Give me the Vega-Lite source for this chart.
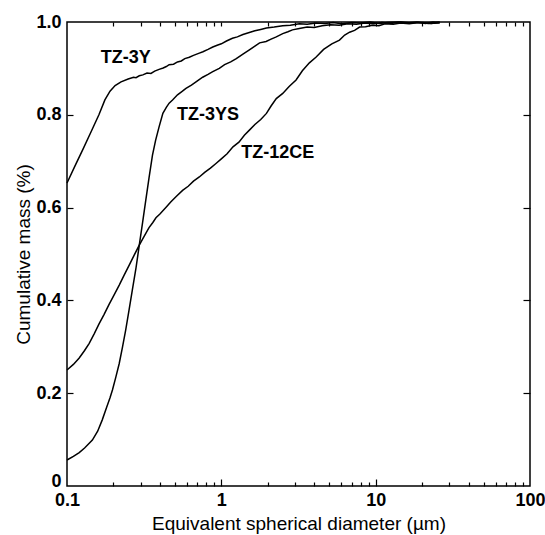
{
  "$schema": "https://vega.github.io/schema/vega-lite/v6.json",
  "width": 463,
  "height": 464,
  "autosize": {"type": "none"},
  "padding": {"left": 67, "top": 22, "right": 15, "bottom": 49},
  "config": {
    "view": {"stroke": "black", "strokeWidth": 1.5},
    "font": "Liberation Sans",
    "axis": {
      "domain": false,
      "grid": false,
      "labelFont": "Liberation Sans",
      "titleFont": "Liberation Sans",
      "labelColor": "black",
      "titleColor": "black",
      "tickColor": "black",
      "labelFontSize": 18,
      "labelFontWeight": "bold",
      "titleFontSize": 19,
      "titleFontWeight": "normal",
      "tickWidth": 1.2
    }
  },
  "data": {
    "values": [
      {"series": "TZ-3Y", "d": 0.1, "m": 0.653},
      {"series": "TZ-3Y", "d": 0.1127, "m": 0.69},
      {"series": "TZ-3Y", "d": 0.127, "m": 0.726},
      {"series": "TZ-3Y", "d": 0.143, "m": 0.763},
      {"series": "TZ-3Y", "d": 0.161, "m": 0.8},
      {"series": "TZ-3Y", "d": 0.176, "m": 0.832},
      {"series": "TZ-3Y", "d": 0.19, "m": 0.851},
      {"series": "TZ-3Y", "d": 0.205, "m": 0.863},
      {"series": "TZ-3Y", "d": 0.224, "m": 0.871},
      {"series": "TZ-3Y", "d": 0.249, "m": 0.877},
      {"series": "TZ-3Y", "d": 0.27, "m": 0.881},
      {"series": "TZ-3Y", "d": 0.28, "m": 0.88},
      {"series": "TZ-3Y", "d": 0.294, "m": 0.884},
      {"series": "TZ-3Y", "d": 0.31, "m": 0.886},
      {"series": "TZ-3Y", "d": 0.33, "m": 0.89},
      {"series": "TZ-3Y", "d": 0.35, "m": 0.889},
      {"series": "TZ-3Y", "d": 0.37, "m": 0.894},
      {"series": "TZ-3Y", "d": 0.395, "m": 0.898},
      {"series": "TZ-3Y", "d": 0.42, "m": 0.901},
      {"series": "TZ-3Y", "d": 0.44, "m": 0.904},
      {"series": "TZ-3Y", "d": 0.459, "m": 0.908},
      {"series": "TZ-3Y", "d": 0.49, "m": 0.909},
      {"series": "TZ-3Y", "d": 0.52, "m": 0.914},
      {"series": "TZ-3Y", "d": 0.55, "m": 0.916},
      {"series": "TZ-3Y", "d": 0.58, "m": 0.921},
      {"series": "TZ-3Y", "d": 0.62, "m": 0.924},
      {"series": "TZ-3Y", "d": 0.66, "m": 0.928},
      {"series": "TZ-3Y", "d": 0.72, "m": 0.933},
      {"series": "TZ-3Y", "d": 0.76, "m": 0.936},
      {"series": "TZ-3Y", "d": 0.82, "m": 0.941},
      {"series": "TZ-3Y", "d": 0.88, "m": 0.946},
      {"series": "TZ-3Y", "d": 0.94, "m": 0.95},
      {"series": "TZ-3Y", "d": 1.0, "m": 0.953},
      {"series": "TZ-3Y", "d": 1.08, "m": 0.959},
      {"series": "TZ-3Y", "d": 1.18, "m": 0.965},
      {"series": "TZ-3Y", "d": 1.27, "m": 0.968},
      {"series": "TZ-3Y", "d": 1.38, "m": 0.973},
      {"series": "TZ-3Y", "d": 1.5, "m": 0.977},
      {"series": "TZ-3Y", "d": 1.65, "m": 0.981},
      {"series": "TZ-3Y", "d": 1.8, "m": 0.984},
      {"series": "TZ-3Y", "d": 1.96, "m": 0.987},
      {"series": "TZ-3Y", "d": 2.2, "m": 0.989},
      {"series": "TZ-3Y", "d": 2.5, "m": 0.992},
      {"series": "TZ-3Y", "d": 2.8, "m": 0.993},
      {"series": "TZ-3Y", "d": 3.2, "m": 0.996},
      {"series": "TZ-3Y", "d": 3.6, "m": 0.995},
      {"series": "TZ-3Y", "d": 4.1, "m": 0.998},
      {"series": "TZ-3Y", "d": 4.7, "m": 0.997},
      {"series": "TZ-3Y", "d": 5.3, "m": 0.999},
      {"series": "TZ-3Y", "d": 6, "m": 0.996},
      {"series": "TZ-3Y", "d": 7, "m": 0.999},
      {"series": "TZ-3Y", "d": 8, "m": 0.998},
      {"series": "TZ-3Y", "d": 9.2, "m": 1.0},
      {"series": "TZ-3Y", "d": 10.5, "m": 0.997},
      {"series": "TZ-3Y", "d": 12, "m": 0.999},
      {"series": "TZ-3Y", "d": 14, "m": 1.0},
      {"series": "TZ-3Y", "d": 16, "m": 0.998},
      {"series": "TZ-3Y", "d": 18.5, "m": 1.0},
      {"series": "TZ-3Y", "d": 21, "m": 0.997},
      {"series": "TZ-3Y", "d": 23.5, "m": 1.0},
      {"series": "TZ-3Y", "d": 26, "m": 0.999},

      {"series": "TZ-3YS", "d": 0.1, "m": 0.056},
      {"series": "TZ-3YS", "d": 0.11, "m": 0.064},
      {"series": "TZ-3YS", "d": 0.12, "m": 0.072},
      {"series": "TZ-3YS", "d": 0.13, "m": 0.082},
      {"series": "TZ-3YS", "d": 0.146, "m": 0.099},
      {"series": "TZ-3YS", "d": 0.158, "m": 0.118},
      {"series": "TZ-3YS", "d": 0.169, "m": 0.142},
      {"series": "TZ-3YS", "d": 0.18, "m": 0.168},
      {"series": "TZ-3YS", "d": 0.19, "m": 0.19},
      {"series": "TZ-3YS", "d": 0.197, "m": 0.207},
      {"series": "TZ-3YS", "d": 0.207, "m": 0.234},
      {"series": "TZ-3YS", "d": 0.218, "m": 0.264},
      {"series": "TZ-3YS", "d": 0.229, "m": 0.3},
      {"series": "TZ-3YS", "d": 0.24, "m": 0.336},
      {"series": "TZ-3YS", "d": 0.252, "m": 0.378},
      {"series": "TZ-3YS", "d": 0.265, "m": 0.422},
      {"series": "TZ-3YS", "d": 0.28, "m": 0.47},
      {"series": "TZ-3YS", "d": 0.294, "m": 0.519},
      {"series": "TZ-3YS", "d": 0.309, "m": 0.568},
      {"series": "TZ-3YS", "d": 0.324, "m": 0.616},
      {"series": "TZ-3YS", "d": 0.34, "m": 0.664},
      {"series": "TZ-3YS", "d": 0.358, "m": 0.713},
      {"series": "TZ-3YS", "d": 0.375, "m": 0.745},
      {"series": "TZ-3YS", "d": 0.395, "m": 0.774},
      {"series": "TZ-3YS", "d": 0.418, "m": 0.803},
      {"series": "TZ-3YS", "d": 0.44, "m": 0.816},
      {"series": "TZ-3YS", "d": 0.459, "m": 0.825},
      {"series": "TZ-3YS", "d": 0.483, "m": 0.832},
      {"series": "TZ-3YS", "d": 0.52, "m": 0.843},
      {"series": "TZ-3YS", "d": 0.56, "m": 0.851},
      {"series": "TZ-3YS", "d": 0.59, "m": 0.857},
      {"series": "TZ-3YS", "d": 0.64, "m": 0.864},
      {"series": "TZ-3YS", "d": 0.7, "m": 0.873},
      {"series": "TZ-3YS", "d": 0.757, "m": 0.881},
      {"series": "TZ-3YS", "d": 0.82, "m": 0.887},
      {"series": "TZ-3YS", "d": 0.88, "m": 0.893},
      {"series": "TZ-3YS", "d": 0.97, "m": 0.9},
      {"series": "TZ-3YS", "d": 1.05, "m": 0.908},
      {"series": "TZ-3YS", "d": 1.15, "m": 0.914},
      {"series": "TZ-3YS", "d": 1.25, "m": 0.921},
      {"series": "TZ-3YS", "d": 1.38, "m": 0.931},
      {"series": "TZ-3YS", "d": 1.52, "m": 0.94},
      {"series": "TZ-3YS", "d": 1.65, "m": 0.948},
      {"series": "TZ-3YS", "d": 1.77, "m": 0.955},
      {"series": "TZ-3YS", "d": 1.95, "m": 0.958},
      {"series": "TZ-3YS", "d": 2.1, "m": 0.963},
      {"series": "TZ-3YS", "d": 2.27, "m": 0.968},
      {"series": "TZ-3YS", "d": 2.5, "m": 0.975},
      {"series": "TZ-3YS", "d": 2.7, "m": 0.979},
      {"series": "TZ-3YS", "d": 2.89, "m": 0.983},
      {"series": "TZ-3YS", "d": 3.2, "m": 0.986},
      {"series": "TZ-3YS", "d": 3.6, "m": 0.989},
      {"series": "TZ-3YS", "d": 4.0, "m": 0.988},
      {"series": "TZ-3YS", "d": 4.5, "m": 0.992},
      {"series": "TZ-3YS", "d": 5.1, "m": 0.994},
      {"series": "TZ-3YS", "d": 5.8, "m": 0.993},
      {"series": "TZ-3YS", "d": 6.6, "m": 0.996},
      {"series": "TZ-3YS", "d": 7.5, "m": 0.995},
      {"series": "TZ-3YS", "d": 8.5, "m": 0.998},
      {"series": "TZ-3YS", "d": 9.7, "m": 0.996},
      {"series": "TZ-3YS", "d": 11, "m": 0.999},
      {"series": "TZ-3YS", "d": 12.5, "m": 0.997},
      {"series": "TZ-3YS", "d": 14.5, "m": 1.0},
      {"series": "TZ-3YS", "d": 17, "m": 0.998},
      {"series": "TZ-3YS", "d": 20, "m": 0.999},
      {"series": "TZ-3YS", "d": 23, "m": 0.997},
      {"series": "TZ-3YS", "d": 26, "m": 1.0},

      {"series": "TZ-12CE", "d": 0.1, "m": 0.25},
      {"series": "TZ-12CE", "d": 0.11, "m": 0.262},
      {"series": "TZ-12CE", "d": 0.12, "m": 0.276},
      {"series": "TZ-12CE", "d": 0.13, "m": 0.292},
      {"series": "TZ-12CE", "d": 0.139, "m": 0.307},
      {"series": "TZ-12CE", "d": 0.15, "m": 0.328},
      {"series": "TZ-12CE", "d": 0.161, "m": 0.349},
      {"series": "TZ-12CE", "d": 0.174, "m": 0.37},
      {"series": "TZ-12CE", "d": 0.187, "m": 0.391},
      {"series": "TZ-12CE", "d": 0.202, "m": 0.412},
      {"series": "TZ-12CE", "d": 0.218, "m": 0.433},
      {"series": "TZ-12CE", "d": 0.235, "m": 0.455},
      {"series": "TZ-12CE", "d": 0.253, "m": 0.476},
      {"series": "TZ-12CE", "d": 0.272, "m": 0.497},
      {"series": "TZ-12CE", "d": 0.294, "m": 0.519},
      {"series": "TZ-12CE", "d": 0.316, "m": 0.538},
      {"series": "TZ-12CE", "d": 0.34, "m": 0.557},
      {"series": "TZ-12CE", "d": 0.36, "m": 0.568},
      {"series": "TZ-12CE", "d": 0.377, "m": 0.578},
      {"series": "TZ-12CE", "d": 0.4, "m": 0.586},
      {"series": "TZ-12CE", "d": 0.437, "m": 0.6},
      {"series": "TZ-12CE", "d": 0.47, "m": 0.612},
      {"series": "TZ-12CE", "d": 0.51, "m": 0.624},
      {"series": "TZ-12CE", "d": 0.561, "m": 0.637},
      {"series": "TZ-12CE", "d": 0.61, "m": 0.646},
      {"series": "TZ-12CE", "d": 0.66, "m": 0.657},
      {"series": "TZ-12CE", "d": 0.72, "m": 0.666},
      {"series": "TZ-12CE", "d": 0.78, "m": 0.676},
      {"series": "TZ-12CE", "d": 0.85, "m": 0.685},
      {"series": "TZ-12CE", "d": 0.923, "m": 0.695},
      {"series": "TZ-12CE", "d": 1.0, "m": 0.705},
      {"series": "TZ-12CE", "d": 1.09, "m": 0.716},
      {"series": "TZ-12CE", "d": 1.19, "m": 0.731},
      {"series": "TZ-12CE", "d": 1.3, "m": 0.741},
      {"series": "TZ-12CE", "d": 1.41, "m": 0.756},
      {"series": "TZ-12CE", "d": 1.52, "m": 0.767},
      {"series": "TZ-12CE", "d": 1.65, "m": 0.779},
      {"series": "TZ-12CE", "d": 1.8, "m": 0.79},
      {"series": "TZ-12CE", "d": 1.96, "m": 0.803},
      {"series": "TZ-12CE", "d": 2.1, "m": 0.819},
      {"series": "TZ-12CE", "d": 2.27, "m": 0.835},
      {"series": "TZ-12CE", "d": 2.5, "m": 0.846},
      {"series": "TZ-12CE", "d": 2.75, "m": 0.861},
      {"series": "TZ-12CE", "d": 3.05, "m": 0.875},
      {"series": "TZ-12CE", "d": 3.35, "m": 0.895},
      {"series": "TZ-12CE", "d": 3.72, "m": 0.912},
      {"series": "TZ-12CE", "d": 4.1, "m": 0.924},
      {"series": "TZ-12CE", "d": 4.6, "m": 0.941},
      {"series": "TZ-12CE", "d": 5.2, "m": 0.953},
      {"series": "TZ-12CE", "d": 5.83, "m": 0.961},
      {"series": "TZ-12CE", "d": 6.3, "m": 0.972},
      {"series": "TZ-12CE", "d": 6.78, "m": 0.978},
      {"series": "TZ-12CE", "d": 7.3, "m": 0.982},
      {"series": "TZ-12CE", "d": 7.87, "m": 0.989},
      {"series": "TZ-12CE", "d": 8.6, "m": 0.99},
      {"series": "TZ-12CE", "d": 9.5, "m": 0.993},
      {"series": "TZ-12CE", "d": 10.5, "m": 0.992},
      {"series": "TZ-12CE", "d": 11.5, "m": 0.996},
      {"series": "TZ-12CE", "d": 13, "m": 0.995},
      {"series": "TZ-12CE", "d": 14.5, "m": 0.998},
      {"series": "TZ-12CE", "d": 16.5, "m": 0.996},
      {"series": "TZ-12CE", "d": 19, "m": 0.999},
      {"series": "TZ-12CE", "d": 22, "m": 0.997},
      {"series": "TZ-12CE", "d": 26, "m": 0.998}
    ]
  },
  "layer": [
    {
      "mark": {"type": "line", "color": "black", "strokeWidth": 1.5},
      "encoding": {
        "x": {
          "field": "d", "type": "quantitative",
          "scale": {"type": "log", "domain": [0.1, 100], "nice": false},
          "axis": {
            "orient": "bottom", "values": [0.1, 1, 10, 100], "ticks": false,
            "labelPadding": 5, "labelExpr": "format(datum.value, '~g')",
            "labelFlush": false, "labelOverlap": false,
            "title": "Equivalent spherical diameter (µm)", "titlePadding": 5
          }
        },
        "y": {
          "field": "m", "type": "quantitative",
          "scale": {"domain": [0, 1], "nice": false},
          "axis": {
            "orient": "left", "values": [0, 0.2, 0.4, 0.6, 0.8, 1], "ticks": false,
            "labelPadding": 6,
            "labelBaseline": {"condition": {"test": "datum.value == 0", "value": "alphabetic"}, "value": "middle"},
            "labelExpr": "datum.value == 0 ? '0' : format(datum.value, '.1f')",
            "labelFlush": false, "labelOverlap": false,
            "title": "Cumulative mass (%)", "titlePadding": 2
          }
        },
        "detail": {"field": "series"}
      }
    },
    {
      "data": {
        "values": [
          {"label": "TZ-3Y", "d": 0.24, "m": 0.923},
          {"label": "TZ-3YS", "d": 0.82, "m": 0.8},
          {"label": "TZ-12CE", "d": 2.32, "m": 0.717}
        ]
      },
      "mark": {"type": "text", "fontSize": 18, "fontWeight": "bold", "font": "Liberation Sans", "color": "black", "align": "center", "baseline": "middle"},
      "encoding": {
        "x": {
          "field": "d", "type": "quantitative",
          "axis": {"orient": "bottom", "values": [1, 10], "tickSize": -7, "labels": false, "title": null}
        },
        "y": {
          "field": "m", "type": "quantitative",
          "axis": {"orient": "right", "values": [0.2, 0.4, 0.6, 0.8], "tickSize": -7, "labels": false, "title": null}
        },
        "text": {"field": "label"}
      }
    },
    {
      "mark": {"type": "line", "opacity": 0},
      "encoding": {
        "x": {
          "field": "d", "type": "quantitative",
          "axis": {"orient": "top", "values": [0.2, 0.3, 0.4, 0.5, 0.6, 0.7, 0.8, 0.9, 1, 2, 3, 4, 5, 6, 7, 8, 9, 10, 20, 30, 40, 50, 60, 70, 80, 90], "tickSize": -4, "labels": false, "title": null}
        },
        "y": {
          "field": "m", "type": "quantitative",
          "axis": {"orient": "left", "values": [0.2, 0.4, 0.6, 0.8], "tickSize": -6, "labels": false, "title": null}
        },
        "detail": {"field": "series"}
      }
    },
    {
      "mark": {"type": "line", "opacity": 0},
      "encoding": {
        "x": {
          "field": "d", "type": "quantitative",
          "axis": {"orient": "bottom", "values": [0.2, 0.3, 0.4, 0.5, 0.6, 0.7, 0.8, 0.9, 2, 3, 4, 5, 6, 7, 8, 9, 20, 30, 40, 50, 60, 70, 80, 90], "tickSize": -4, "labels": false, "title": null}
        },
        "y": {"field": "m", "type": "quantitative", "axis": null},
        "detail": {"field": "series"}
      }
    }
  ],
  "resolve": {"axis": {"x": "independent", "y": "independent"}}
}
